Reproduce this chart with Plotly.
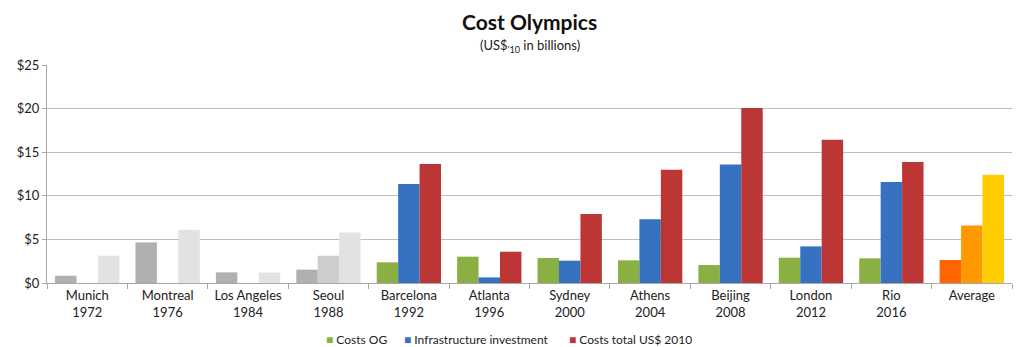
import plotly.graph_objects as go

# Games and their cost figures (US$ 2010, billions)
games = ["Munich<br>1972", "Montreal<br>1976", "Los Angeles<br>1984", "Seoul<br>1988",
         "Barcelona<br>1992", "Atlanta<br>1996", "Sydney<br>2000", "Athens<br>2004",
         "Beijing<br>2008", "London<br>2012", "Rio<br>2016", "Average"]
costs_og = [0.84, 4.66, 1.22, 1.53, 2.37, 3.02, 2.87, 2.60, 2.06, 2.90, 2.83, 2.64]
infrastructure = [None, None, None, 3.13, 11.35, 0.64, 2.56, 7.30, 13.60, 4.20, 11.58, 6.60]
costs_total = [3.13, 6.10, 1.20, 5.80, 13.65, 3.59, 7.91, 13.00, 20.07, 16.43, 13.88, 12.42]

series_names = ["Costs OG", "Infrastructure investment", "Costs total US$ 2010"]
main_colors = ["#8AB044", "#3672C0", "#BC3636"]
early_colors = ["#B0B0B0", "#CDCDCD", "#E2E2E2"]
avg_colors = ["#FF6600", "#FF9900", "#FFCC00"]

# figure geometry (pixels)
W, H = 1016, 347
ML, MR, MT, MB = 47, 4, 65, 64
plot_w = W - ML - MR
plot_h = H - MT - MB

n_early = 4
fig = go.Figure()
for k, (name, vals) in enumerate(zip(series_names, [costs_og, infrastructure, costs_total])):
    colors = []
    for i in range(len(games)):
        if i < n_early:
            colors.append(early_colors[k])
        elif i == len(games) - 1:
            colors.append(avg_colors[k])
        else:
            colors.append(main_colors[k])
    fig.add_trace(go.Bar(x=games, y=vals, name=name,
                         marker=dict(color=colors, line=dict(width=0))))

# legend row drawn as text keys under the axis
legend_left_px = [325, 403, 568]
annotations = [
    dict(text="<b>Cost Olympics</b>", x=0.5, y=1 + (MT - 22) / plot_h, yanchor="middle",
         xref="paper", yref="paper", showarrow=False, font=dict(size=21, color="#111")),
    dict(text="(US$<sub>'10</sub> in billions)", x=0.5, y=1 + (MT - 46) / plot_h, yanchor="middle",
         xref="paper", yref="paper", showarrow=False, font=dict(size=13, color="#222")),
]
for name, col, px in zip(series_names, main_colors, legend_left_px):
    annotations.append(dict(
        text=f"<span style='color:{col}'>■</span> {name}",
        x=(px - ML) / plot_w, y=-(339 - (H - MB)) / plot_h, xanchor="left", yanchor="middle",
        xref="paper", yref="paper", showarrow=False, borderpad=0,
        font=dict(size=12, color="#222")))

fig.update_layout(
    width=W, height=H,
    margin=dict(l=ML, r=MR, t=MT, b=MB, autoexpand=False),
    paper_bgcolor="white", plot_bgcolor="white",
    font=dict(family="Lato, Arial, sans-serif", size=12, color="#222"),
    barmode="group", bargap=0.2, bargroupgap=0,
    showlegend=False,
    annotations=annotations,
)

fig.update_xaxes(type="category", tickson="boundaries", ticks="outside", ticklen=5,
                 tickcolor="#A8A8A8", showline=True, linecolor="#A8A8A8", linewidth=1,
                 showgrid=False, automargin=False, tickfont=dict(size=13, color="#222"))
fig.update_yaxes(range=[0, 25], dtick=5, tickprefix="$", showgrid=True, gridcolor="#BEBEBE",
                 gridwidth=1, showline=True, linecolor="#A8A8A8", linewidth=1,
                 ticks="outside", ticklen=4, tickcolor="#A8A8A8", zeroline=False,
                 automargin=False, tickfont=dict(size=13, color="#222"))

fig.write_html("out.html")
